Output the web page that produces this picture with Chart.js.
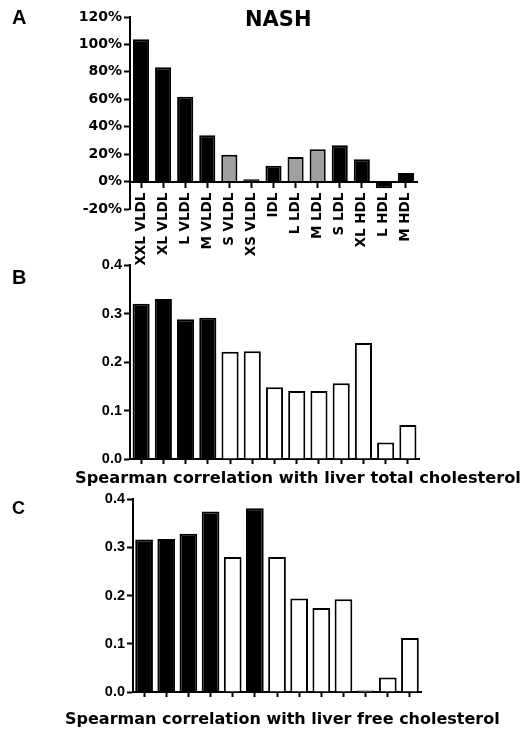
<!DOCTYPE html>
<html>
<head>
<meta charset="utf-8">
<script src="https://cdn.jsdelivr.net/npm/chart.js@4.4.1/dist/chart.umd.min.js"></script>
<style>
body { margin: 0; background: #fff; }
#wrap { position: relative; width: 523px; height: 731px; overflow: hidden; }
canvas { position: absolute; left: 0; }
.txt { position: absolute; white-space: nowrap; line-height: 1; color: #000; font-weight: bold; }
.letter { font-family: "Liberation Sans", Arial, sans-serif; }
.verd { font-family: "DejaVu Sans", Verdana, sans-serif; }
</style>
</head>
<body>
<div id="wrap">
  <canvas id="graficoA" width="523" height="280" style="top:0"></canvas>
  <canvas id="graficoB" width="523" height="240" style="top:240px"></canvas>
  <canvas id="graficoC" width="523" height="251" style="top:480px"></canvas>
  <div class="txt letter" style="left:12px;top:7px;font-size:20px">A</div>
  <div class="txt verd" style="left:245px;top:9px;font-size:21px">NASH</div>
  <div class="txt letter" style="left:12px;top:267px;font-size:20px">B</div>
  <div class="txt verd" style="left:75px;top:470px;font-size:16.2px">Spearman correlation with liver total cholesterol</div>
  <div class="txt letter" style="left:12px;top:499px;font-size:18px">C</div>
  <div class="txt verd" style="left:65px;top:711px;font-size:16px">Spearman correlation with liver free cholesterol</div>
</div>
<script>
// lipoprotein subclasses (same order in the three panels)
const categorias = ['XXL VLDL', 'XL VLDL', 'L VLDL', 'M VLDL', 'S VLDL', 'XS VLDL', 'IDL',
    'L LDL', 'M LDL', 'S LDL', 'XL HDL', 'L HDL', 'M HDL'];

// A: % change in NASH
const cambioNash = [103.8, 83.4, 61.8, 33.7, 19.6, 1.7, 11.6, 17.9, 23.5, 26.4, 16.2, -4.8, 6.3];
const sigNash = [true, true, true, true, false, true, true, false, false, true, true, true, true];
const ticksA = [-20, 0, 20, 40, 60, 80, 100, 120];

// B: spearman vs liver total cholesterol
const corrTotal = [0.320, 0.330, 0.288, 0.291, 0.221, 0.222, 0.148, 0.140, 0.140, 0.156, 0.239, 0.034, 0.070];
const sigTotal = [true, true, true, true, false, false, false, false, false, false, false, false, false];

// C: spearman vs liver free cholesterol
const corrLibre = [0.316, 0.317, 0.328, 0.374, 0.280, 0.381, 0.280, 0.194, 0.174, 0.192, 0.003, 0.030, 0.112];
const sigLibre = [true, true, true, true, false, true, false, false, false, false, false, false, false];
const ticksBC = [0, 0.1, 0.2, 0.3, 0.4];

Chart.defaults.animation = false;
Chart.defaults.color = '#000';

const ejeNegro = { display: true, color: '#000', width: 2 };

function crearGrafico(id, valores, colores, o) {
    return new Chart(document.getElementById(id), {
        type: 'bar',
        data: {
            labels: categorias,
            datasets: [{
                data: valores,
                backgroundColor: colores,
                borderColor: '#000',
                borderWidth: 2,
                barPercentage: o.barPct,
                categoryPercentage: 1
            }]
        },
        options: {
            responsive: false,
            devicePixelRatio: 1,
            layout: { padding: o.padding },
            plugins: { legend: { display: false }, tooltip: { enabled: false } },
            scales: {
                x: {
                    position: o.xPos,
                    border: ejeNegro,
                    grid: { drawOnChartArea: false, offset: false, color: '#000', tickLength: 5, tickWidth: 2 },
                    ticks: o.xTicks,
                    afterFit: s => { s.height = o.xAlto; }
                },
                y: {
                    min: o.min,
                    max: o.max,
                    border: ejeNegro,
                    grid: { drawOnChartArea: false, color: '#000', tickLength: 6, tickWidth: 2 },
                    afterBuildTicks: s => { s.ticks = o.yTicks.map(v => ({ value: v })); },
                    ticks: {
                        padding: 2,
                        font: o.yFont,
                        callback: o.yFmt
                    },
                    afterFit: s => { s.width = o.yAncho; }
                }
            }
        }
    });
}

// Panel A
crearGrafico('graficoA', cambioNash, sigNash.map(s => s ? '#000' : '#a0a0a0'), {
    barPct: 0.73,
    padding: { top: 17, right: 106, bottom: 71, left: 0 },
    xPos: { y: 0 },
    xAlto: 0,
    xTicks: {
        autoSkip: false, maxRotation: 90, minRotation: 90, padding: 6,
        font: { family: 'DejaVu Sans', weight: 'bold', size: 13.5 }
    },
    min: -20, max: 120,
    yTicks: ticksA,
    yFont: { family: 'DejaVu Sans', weight: 'bold', size: 14 },
    yFmt: v => v + '%',
    yAncho: 130
});

// Panel B
crearGrafico('graficoB', corrTotal, sigTotal.map(s => s ? '#000' : '#fff'), {
    barPct: 0.77,
    padding: { top: 25, right: 104, bottom: 0, left: 0 },
    xPos: 'bottom',
    xAlto: 21,
    xTicks: { display: false },
    min: 0, max: 0.4,
    yTicks: ticksBC,
    yFont: { family: 'Liberation Sans', weight: 'bold', size: 14.5 },
    yFmt: v => v.toFixed(1),
    yAncho: 130
});

// Panel C
crearGrafico('graficoC', corrLibre, sigLibre.map(s => s ? '#000' : '#fff'), {
    barPct: 0.8,
    padding: { top: 19, right: 102, bottom: 0, left: 0 },
    xPos: 'bottom',
    xAlto: 39,
    xTicks: { display: false },
    min: 0, max: 0.4,
    yTicks: ticksBC,
    yFont: { family: 'Liberation Sans', weight: 'bold', size: 14.5 },
    yFmt: v => v.toFixed(1),
    yAncho: 133
});
</script>
</body>
</html>
